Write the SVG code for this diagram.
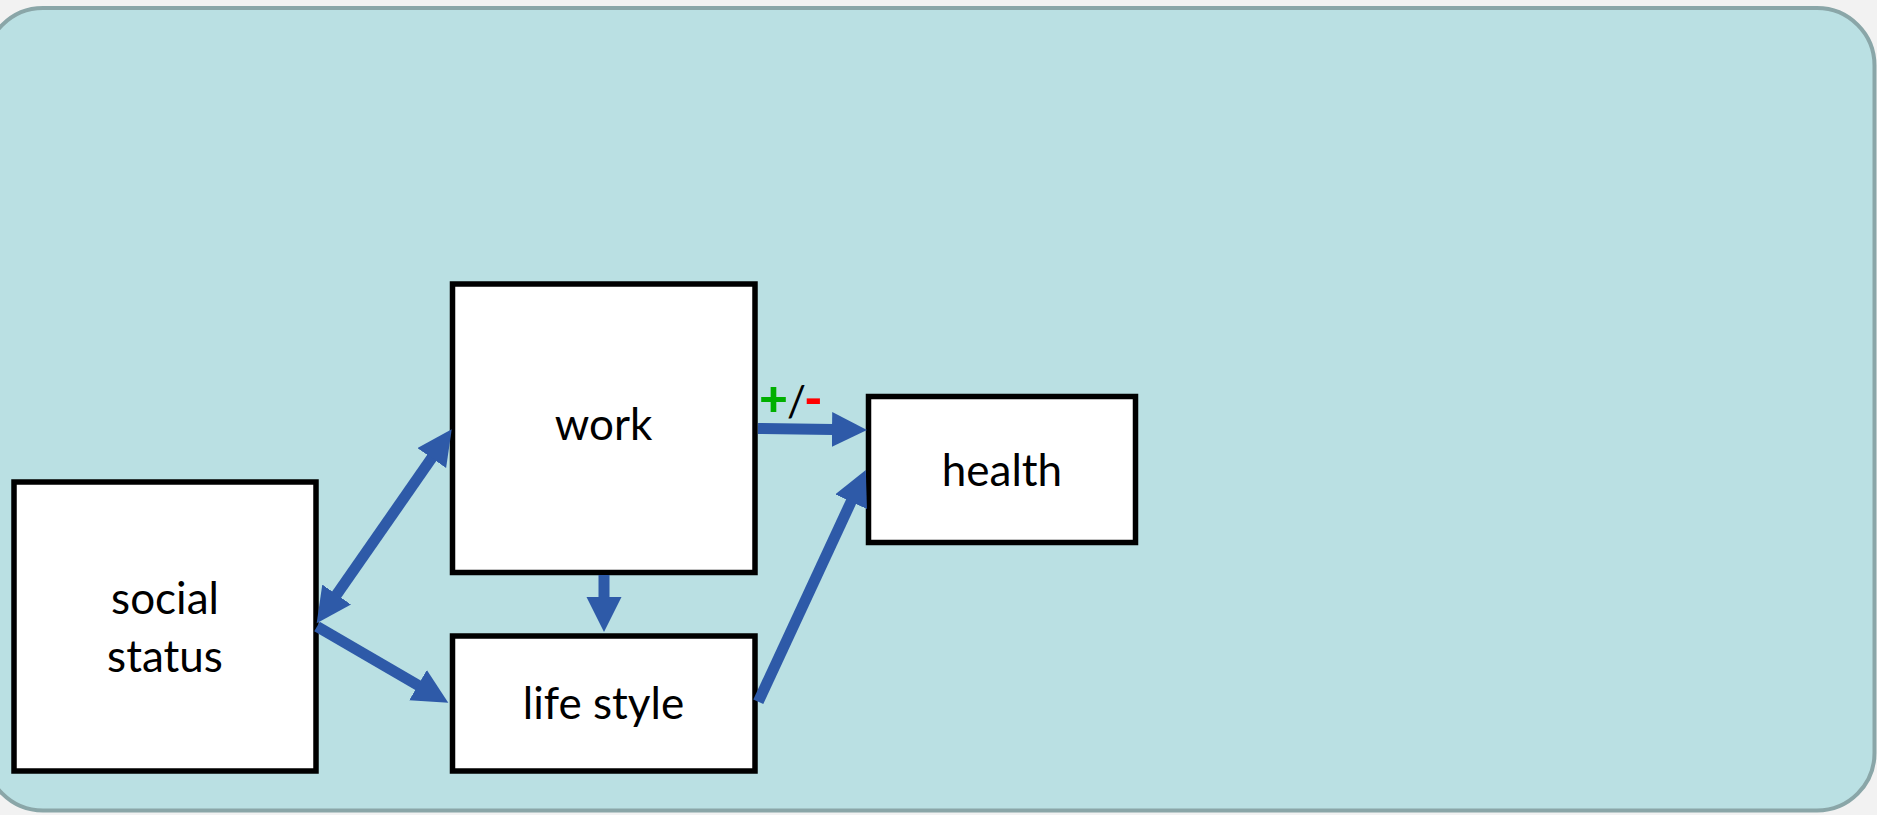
<svg xmlns="http://www.w3.org/2000/svg" width="1877" height="815" viewBox="0 0 1877 815">
<style>
.box{fill:#FFFFFF;stroke:#000000;stroke-width:5.5}
.lbl{font-family:Lato,"Open Sans",sans-serif;font-size:44px;fill:#000000;text-anchor:middle}
.con{stroke:#2E5AA8;stroke-width:11;fill:none}
</style>
<defs>
<marker id="ah" markerUnits="userSpaceOnUse" markerWidth="36" markerHeight="36" viewBox="0 0 36 36" refX="1" refY="17.5" orient="auto-start-reverse">
<path d="M0,0 L35,17.5 L0,35 Z" fill="#2E5AA8"/>
</marker>
</defs>
<rect x="0" y="0" width="1877" height="815" fill="#F2F2F2"/>
<rect id="panel" x="-14.5" y="8" width="1889" height="802.5" rx="57.5" ry="57.5" fill="#BAE0E3" stroke="#8AA6A8" stroke-width="4"/>
<g id="social-status">
<rect class="box" x="14" y="482" width="302" height="289"/>
<text class="lbl" x="165" y="614">social</text>
<text class="lbl" x="165" y="672">status</text>
</g>
<g id="work">
<rect class="box" x="452.5" y="284" width="302.5" height="288.5"/>
<text class="lbl" x="603.5" y="440">work</text>
</g>
<g id="life-style">
<rect class="box" x="452.5" y="636" width="302.5" height="135"/>
<text class="lbl" x="603.5" y="719">life style</text>
</g>
<g id="health">
<rect class="box" x="868.5" y="396.5" width="267" height="146"/>
<text class="lbl" x="1002" y="486">health</text>
</g>
<g id="connectors">
<line class="con" x1="758" y1="428.5" x2="833" y2="429.5" marker-end="url(#ah)"/>
<line class="con" x1="604" y1="575" x2="604" y2="598" marker-end="url(#ah)"/>
<line class="con" x1="336.1" y1="595.4" x2="432.3" y2="457.2" marker-start="url(#ah)" marker-end="url(#ah)"/>
<line class="con" x1="317" y1="626.5" x2="418.9" y2="685.7" marker-end="url(#ah)"/>
<line class="con" x1="758.3" y1="701.7" x2="851.5" y2="500.8" marker-end="url(#ah)"/>
<text y="416" font-family="Lato,'Open Sans',sans-serif" font-size="50px" fill="#000000"><tspan x="759" fill="#00B000" font-weight="900">+</tspan><tspan x="787" font-size="42px">/</tspan><tspan x="804" fill="#FF0000" font-weight="900">-</tspan></text>
</g>
</svg>
